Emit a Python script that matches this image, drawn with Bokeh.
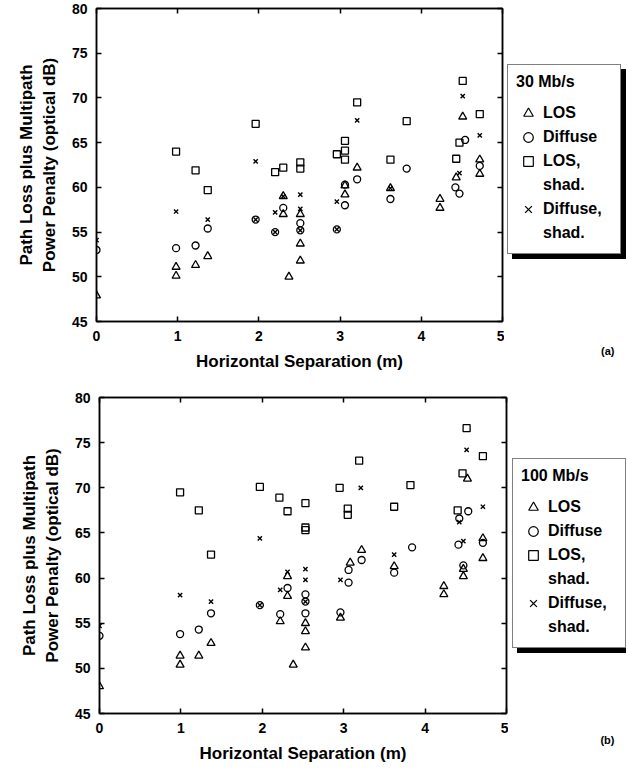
from bokeh.plotting import figure
from bokeh.models import LinearAxis, FixedTicker, Legend, LegendItem, Range1d, Title
from bokeh.layouts import column, row
from bokeh.embed import file_html
from bokeh.resources import INLINE

FONT = "Liberation Sans"

x_ticks = [0, 1, 2, 3, 4, 5]
y_ticks = [45, 50, 55, 60, 65, 70, 75, 80]
x_label = "Horizontal Separation (m)"
y_label = "Path Loss plus Multipath\nPower Penalty (optical dB)"
series_names = ["LOS", "Diffuse", "LOS,", "shad.", "Diffuse,", "shad."]

# ---------------- (a) 30 Mb/s ----------------
a_los_x = [0.00, 0.98, 0.98, 1.22, 1.37, 2.30, 2.30, 2.37, 2.51, 2.51, 2.51,
           3.06, 3.06, 3.21, 3.62, 4.23, 4.23, 4.43, 4.51, 4.72, 4.72]
a_los_y = [47.9, 51.1, 50.1, 51.3, 52.3, 59.0, 57.0, 50.0, 57.0, 53.7, 51.8,
           59.2, 60.2, 62.2, 59.9, 58.7, 57.7, 61.1, 67.9, 63.1, 61.5]
a_dif_x = [0.00, 0.98, 1.22, 1.37, 1.96, 2.20, 2.30, 2.51, 2.51, 2.96, 3.06,
           3.06, 3.21, 3.62, 3.82, 4.42, 4.47, 4.54, 4.72]
a_dif_y = [53.0, 53.2, 53.5, 55.4, 56.4, 55.0, 57.7, 56.0, 55.2, 55.3, 58.0,
           60.3, 60.9, 58.7, 62.1, 60.0, 59.3, 65.3, 62.4]
a_loss_x = [0.98, 1.22, 1.37, 1.96, 2.20, 2.30, 2.51, 2.51, 2.96, 3.06, 3.06,
            3.06, 3.21, 3.62, 3.82, 4.43, 4.47, 4.51, 4.72]
a_loss_y = [64.0, 61.9, 59.7, 67.1, 61.7, 62.2, 62.8, 62.1, 63.7, 65.2, 64.1,
            63.1, 69.5, 63.1, 67.4, 63.2, 65.0, 71.9, 68.2]
a_difs_x = [0.00, 0.98, 1.37, 1.96, 1.96, 2.20, 2.20, 2.30, 2.51, 2.51, 2.51,
            2.96, 2.96, 3.21, 3.62, 4.47, 4.51, 4.72]
a_difs_y = [54.1, 57.3, 56.4, 62.9, 56.4, 57.2, 55.0, 59.0, 59.2, 57.6, 55.2,
            58.4, 55.3, 67.5, 59.9, 61.6, 70.2, 65.8]

# ---------------- (b) 100 Mb/s ----------------
b_los_x = [0.00, 0.99, 0.99, 1.22, 1.37, 2.22, 2.31, 2.31, 2.38, 2.53, 2.53,
           2.53, 2.96, 3.08, 3.22, 3.62, 4.23, 4.23, 4.47, 4.47, 4.52, 4.71, 4.71]
b_los_y = [48.0, 51.4, 50.4, 51.4, 52.8, 55.2, 60.2, 58.0, 50.4, 55.0, 54.1,
           52.3, 55.6, 61.7, 63.1, 61.3, 59.1, 58.2, 61.0, 60.2, 71.0, 64.4, 62.2]
b_dif_x = [0.00, 0.99, 1.22, 1.37, 1.97, 2.22, 2.31, 2.53, 2.53, 2.53, 2.96,
           3.06, 3.06, 3.22, 3.62, 3.84, 4.41, 4.42, 4.47, 4.53, 4.71]
b_dif_y = [53.6, 53.8, 54.3, 56.1, 57.0, 56.0, 58.9, 58.2, 57.4, 56.1, 56.2,
           59.5, 60.9, 62.0, 60.6, 63.4, 63.7, 66.6, 61.4, 67.4, 63.9]
b_loss_x = [0.99, 1.22, 1.37, 1.97, 2.21, 2.31, 2.53, 2.53, 2.53, 2.95, 3.05,
            3.05, 3.19, 3.62, 3.82, 4.40, 4.46, 4.51, 4.71]
b_loss_y = [69.5, 67.5, 62.6, 70.1, 68.9, 67.4, 68.3, 65.6, 65.3, 70.0, 67.7,
            67.0, 73.0, 67.9, 70.3, 67.5, 71.6, 76.6, 73.5]
b_difs_x = [0.00, 0.99, 1.37, 1.97, 1.97, 2.22, 2.31, 2.53, 2.53, 2.53, 2.96,
            3.21, 3.62, 4.42, 4.47, 4.51, 4.71]
b_difs_y = [54.7, 58.1, 57.4, 64.4, 57.0, 58.7, 60.7, 61.0, 59.8, 57.4, 59.8,
            70.0, 62.6, 66.2, 64.1, 74.2, 67.9]

MARKERS = [("triangle", 8), ("circle", 7), ("square", 7), ("x", 6)]
NAN = float("nan")


def style_axis(ax, ticks, show_labels):
    ax.ticker = FixedTicker(ticks=ticks)
    ax.major_tick_in = 5
    ax.major_tick_out = 0
    ax.minor_tick_line_color = None
    ax.axis_line_width = 1.5
    ax.axis_line_color = "black"
    ax.major_tick_line_width = 1.5
    ax.major_tick_line_color = "black"
    if show_labels:
        ax.major_label_text_font = FONT
        ax.major_label_text_font_style = "bold"
        ax.major_label_text_font_size = "14px"
        ax.major_label_text_color = "black"
        ax.axis_label_text_font = FONT
        ax.axis_label_text_font_style = "bold"
        ax.axis_label_text_font_size = "17px"
        ax.axis_label_text_color = "black"
    else:
        ax.major_label_text_color = None
        ax.major_label_text_font_size = "1px"
        ax.major_label_standoff = 0


def make_main(d, dims):
    width, height, bl, bt, bb = dims
    p = figure(width=width, height=height, x_range=Range1d(0, 5), y_range=Range1d(45, 80),
               output_backend="svg", toolbar_location=None,
               min_border_left=bl, min_border_right=2, min_border_top=bt, min_border_bottom=bb)
    p.grid.visible = False
    p.outline_line_color = "black"
    p.outline_line_width = 1.5
    p.background_fill_color = "white"
    p.border_fill_color = "white"

    xa = p.xaxis[0]
    ya = p.yaxis[0]
    style_axis(xa, x_ticks, True)
    style_axis(ya, y_ticks, True)
    xa.axis_label = x_label
    ya.axis_label = y_label
    xa.major_label_standoff = 9
    xa.axis_label_standoff = 8
    ya.major_label_standoff = 9
    ya.axis_label_standoff = 10

    top = LinearAxis()
    style_axis(top, x_ticks, False)
    p.add_layout(top, "above")
    right = LinearAxis()
    style_axis(right, y_ticks, False)
    p.add_layout(right, "right")

    pts = [(d["los_x"], d["los_y"]), (d["dif_x"], d["dif_y"]),
           (d["loss_x"], d["loss_y"]), (d["difs_x"], d["difs_y"])]
    for (m, s), (xs, ys) in zip(MARKERS, pts):
        if m == "x":
            p.scatter(xs, ys, marker=m, size=s, line_color="black", line_width=1.4)
        else:
            p.scatter(xs, ys, marker=m, size=s, fill_color=None, line_color="black", line_width=1.3)
    return p


def make_legend_fig(title, tag, dims, legend_loc, tag_standoff):
    width, height = dims
    q = figure(width=width, height=height, x_axis_type=None, y_axis_type=None,
               x_range=Range1d(0, 1), y_range=Range1d(0, 1),
               output_backend="svg", toolbar_location=None,
               min_border_left=0, min_border_right=0, min_border_top=0, min_border_bottom=0)
    q.grid.visible = False
    q.outline_line_color = None
    q.background_fill_color = "white"
    q.border_fill_color = "white"

    # legend proxies (no visible data)
    proxies = []
    for m, s in MARKERS:
        if m == "x":
            proxies.append(q.scatter([NAN], [NAN], marker=m, size=s, line_color="black", line_width=1.3))
        else:
            proxies.append(q.scatter([NAN], [NAN], marker=m, size=s, fill_color=None,
                                     line_color="black", line_width=1.2))
    blank = q.scatter([], [], marker="square", size=1, fill_alpha=0, line_alpha=0)
    rends = [proxies[0], proxies[1], proxies[2], blank, proxies[3], blank]

    vx, vy = legend_loc
    for shadow in (True, False):
        names = [" "] * len(series_names) if shadow else series_names
        items = [LegendItem(label=n, renderers=[r]) for n, r in zip(names, rends)]
        lg = Legend(items=items, title=" " if shadow else title)
        lg.location = (vx + 5, vy - 5) if shadow else (vx, vy)
        lg.margin = 0
        lg.padding = 8
        lg.spacing = 0
        lg.glyph_width = 24
        lg.glyph_height = 24
        lg.label_height = 24
        lg.label_width = 69
        lg.label_standoff = 3
        lg.title_standoff = 10
        lg.label_text_font = FONT
        lg.label_text_font_style = "bold"
        lg.label_text_font_size = "16px"
        lg.title_text_font = FONT
        lg.title_text_font_style = "bold"
        lg.title_text_font_size = "16px"
        lg.border_line_color = "black"
        lg.border_line_width = 1.5
        lg.background_fill_alpha = 1
        lg.background_fill_color = "black" if shadow else "white"
        lg.label_text_color = "black"
        lg.title_text_color = "black"
        q.add_layout(lg)

    t = Title(text=tag, align="right", text_font=FONT, text_font_style="bold",
              text_font_size="11px", text_color="black", offset=12)
    if "standoff" in t.properties():
        t.standoff = tag_standoff
    q.add_layout(t, "below")
    return q


data_a = dict(los_x=a_los_x, los_y=a_los_y, dif_x=a_dif_x, dif_y=a_dif_y,
              loss_x=a_loss_x, loss_y=a_loss_y, difs_x=a_difs_x, difs_y=a_difs_y)
data_b = dict(los_x=b_los_x, los_y=b_los_y, dif_x=b_dif_x, dif_y=b_dif_y,
              loss_x=b_loss_x, loss_y=b_loss_y, difs_x=b_difs_x, difs_y=b_difs_y)

pa = make_main(data_a, (504, 380, 96, 8, 59))
qa = make_legend_fig("30 Mb/s", "(a)", (122, 380), (3, 67), 42)
pb = make_main(data_b, (508, 386, 99, 17, 53))
qb = make_legend_fig("100 Mb/s", "(b)", (118, 386), (4, 65), 36)

layout = column(row(pa, qa), row(pb, qb))
open("out.html", "w").write(file_html(layout, INLINE))
